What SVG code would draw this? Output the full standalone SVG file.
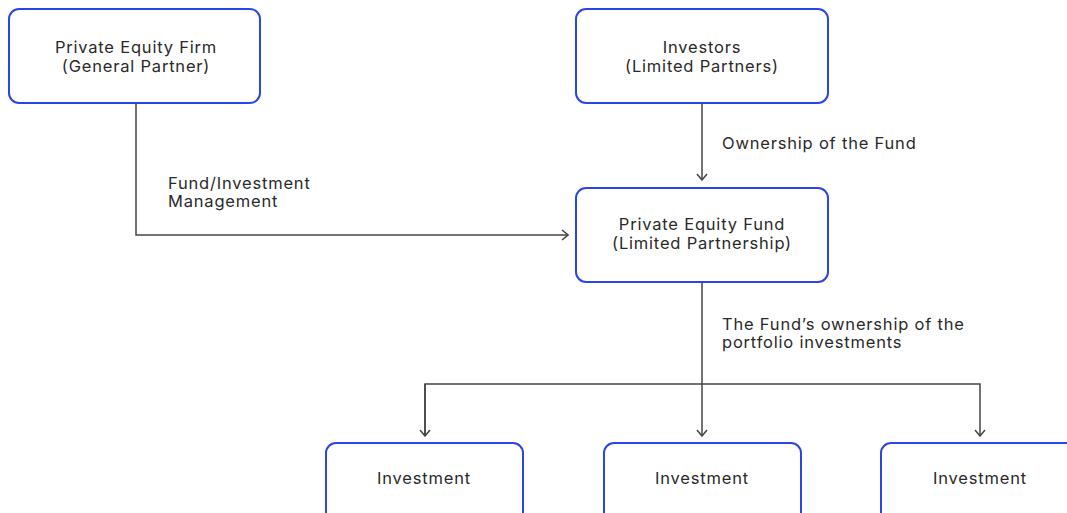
<svg xmlns="http://www.w3.org/2000/svg" width="1067" height="513" viewBox="0 0 1067 513">
<style>
.box{fill:#fff;stroke:#2b45e8;stroke-width:2}
.t{font-family:Inter,"Liberation Sans",sans-serif;font-size:16.5px;letter-spacing:0.8px;fill:#2a2a2a}
.c{text-anchor:middle}
.ln{fill:none;stroke:#444;stroke-width:1.5}
</style>
<defs>
<marker id="ah" viewBox="0 0 12 12" refX="11" refY="6" markerWidth="12" markerHeight="12" markerUnits="userSpaceOnUse" orient="auto">
<path d="M5,1 L11,6 L5,11" fill="none" stroke="#444" stroke-width="1.5"/>
</marker>
</defs>
<rect width="1067" height="513" fill="#fff"/>
<g id="connectors">
<path class="ln" d="M136,103 V235 H568" marker-end="url(#ah)"/>
<path class="ln" d="M702,103 V180" marker-end="url(#ah)"/>
<path class="ln" d="M702,282 V436" marker-end="url(#ah)"/>
<path class="ln" d="M425,436 V384 H980 V436" marker-end="url(#ah)"/>
<path class="ln" d="M425,384 V436" marker-end="url(#ah)"/>
<text class="t" x="168" y="189">Fund/Investment</text>
<text class="t" x="168" y="207">Management</text>
<text class="t" x="722" y="149">Ownership of the Fund</text>
<text class="t" x="722" y="330">The Fund’s ownership of the</text>
<text class="t" x="722" y="348">portfolio investments</text>
</g>
<g id="pe-firm">
<rect class="box" x="9" y="9" width="251" height="94" rx="10"/>
<text class="t c" x="136" y="53">Private Equity Firm</text>
<text class="t c" x="136" y="72">(General Partner)</text>
</g>
<g id="investors">
<rect class="box" x="576" y="9" width="252" height="94" rx="10"/>
<text class="t c" x="702" y="53">Investors</text>
<text class="t c" x="702" y="72">(Limited Partners)</text>
</g>
<g id="pe-fund">
<rect class="box" x="576" y="188" width="252" height="94" rx="10"/>
<text class="t c" x="702" y="230">Private Equity Fund</text>
<text class="t c" x="702" y="249">(Limited Partnership)</text>
</g>
<g id="investment-1">
<rect class="box" x="326" y="443" width="197" height="90" rx="10"/>
<text class="t c" x="424" y="484">Investment</text>
</g>
<g id="investment-2">
<rect class="box" x="604" y="443" width="197" height="90" rx="10"/>
<text class="t c" x="702" y="484">Investment</text>
</g>
<g id="investment-3">
<rect class="box" x="881" y="443" width="197" height="90" rx="10"/>
<text class="t c" x="980" y="484">Investment</text>
</g>
</svg>
